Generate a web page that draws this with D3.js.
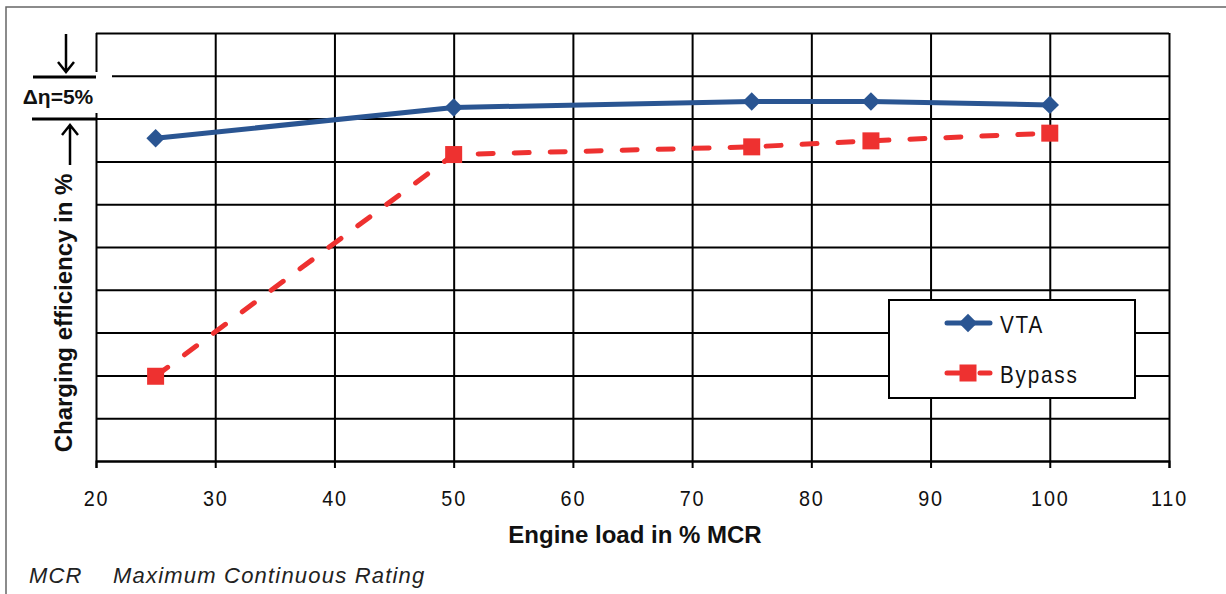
<!DOCTYPE html>
<html>
<head>
<meta charset="utf-8">
<script src="https://cdn.jsdelivr.net/npm/d3@7"></script>
<style>
  body { margin: 0; background: #fff; }
  svg { display: block; }
</style>
</head>
<body>
<div id="chart-area"></div>
<script>
// engine load (% MCR)
var loads = [25, 50, 75, 85, 100];
// charging efficiency (%)
var vtaValues = [72.7, 76.3, 77.0, 77.0, 76.6];
var bypassValues = [44.9, 70.8, 71.7, 72.4, 73.3];
var xTicks = [20, 30, 40, 50, 60, 70, 80, 90, 100, 110];
var yTicks = [35, 40, 45, 50, 55, 60, 65, 70, 75, 80, 85];
var seriesNames = ["VTA", "Bypass"];

var blue = "#2A5592";
var red = "#EE3130";

var margin = { left: 96, right: 57, top: 33, bottom: 133 };
var width = 1226 - margin.left - margin.right;
var height = 594 - margin.top - margin.bottom;

var svg = d3.select("#chart-area")
  .append("svg")
  .attr("width", 1226)
  .attr("height", 594);

// outer frame (top + left only)
svg.append("path")
  .attr("d", "M6,594V7H1226")
  .attr("fill", "none")
  .attr("stroke", "#666")
  .attr("stroke-width", 1.5);

var g = svg.append("g")
  .attr("transform", "translate(" + margin.left + "," + margin.top + ")");

var x = d3.scaleLinear()
  .domain([20, 110])
  .range([0, width]);

var y = d3.scaleLinear()
  .domain([35, 85])
  .range([height, 0]);

// horizontal grid
g.append("g")
  .attr("class", "y-grid")
  .call(d3.axisLeft(y).tickValues(yTicks).tickSize(-width).tickFormat(""))
  .call(a => a.select(".domain").remove())
  .selectAll("line")
    .attr("stroke", "#000")
    .attr("stroke-width", 2);

// vertical grid
g.append("g")
  .attr("class", "x-grid")
  .attr("transform", "translate(0," + height + ")")
  .call(d3.axisBottom(x).tickValues(xTicks).tickSize(-height).tickFormat(""))
  .call(a => a.select(".domain").remove())
  .selectAll("line")
    .attr("stroke", "#000")
    .attr("stroke-width", 2);

// X axis ticks + labels
var xAxis = g.append("g")
  .attr("class", "x-axis")
  .attr("transform", "translate(0," + height + ")")
  .call(d3.axisBottom(x).tickValues(xTicks).tickSize(7).tickFormat(d => d));
xAxis.select(".domain").attr("stroke", "#000").attr("stroke-width", 2);
xAxis.selectAll("line").attr("stroke", "#000").attr("stroke-width", 2);
xAxis.selectAll("text")
  .attr("y", 45)
  .attr("dy", 0)
  .attr("font-family", "Liberation Sans, Arial, sans-serif")
  .attr("font-size", "22px")
  .attr("letter-spacing", "2px")
  .attr("fill", "#111")
  .attr("transform", "scale(0.9,1)");

// X label
svg.append("text")
  .attr("x", 635)
  .attr("y", 543)
  .attr("text-anchor", "middle")
  .attr("font-family", "Liberation Sans, Arial, sans-serif")
  .attr("font-weight", "bold")
  .attr("font-size", "24px")
  .attr("fill", "#111")
  .text("Engine load in % MCR");

// Y label
svg.append("text")
  .attr("transform", "translate(72,313) rotate(-90)")
  .attr("text-anchor", "middle")
  .attr("font-family", "Liberation Sans, Arial, sans-serif")
  .attr("font-weight", "bold")
  .attr("font-size", "24px")
  .attr("fill", "#111")
  .text("Charging efficiency in %");

// delta-eta bracket
svg.append("rect")
  .attr("x", 90).attr("y", 72)
  .attr("width", 22).attr("height", 41)
  .attr("fill", "#fff");

svg.append("line")
  .attr("x1", 33).attr("x2", 96)
  .attr("y1", 77).attr("y2", 77)
  .attr("stroke", "#000").attr("stroke-width", 3);
svg.append("line")
  .attr("x1", 32).attr("x2", 97)
  .attr("y1", 119).attr("y2", 119)
  .attr("stroke", "#000").attr("stroke-width", 3);

var arrows = svg.append("g")
  .attr("fill", "none")
  .attr("stroke", "#000")
  .attr("stroke-width", 2.5);
arrows.append("path").attr("d", "M66,34V72M58,62L66,72L74,62");
arrows.append("path").attr("d", "M70,165V125M62,135L70,125L78,135");

svg.append("text")
  .attr("x", 58)
  .attr("y", 104)
  .attr("text-anchor", "middle")
  .attr("font-family", "Liberation Sans, Arial, sans-serif")
  .attr("font-weight", "bold")
  .attr("font-size", "21px")
  .attr("fill", "#111")
  .text("\u0394\u03b7=5%");

// Lines
var vtaData = loads.map((d, i) => ({ x: d, y: vtaValues[i] }));
var bypassData = loads.map((d, i) => ({ x: d, y: bypassValues[i] }));

var line = d3.line()
  .x(d => x(d.x))
  .y(d => y(d.y));

g.append("path")
  .datum(bypassData)
  .attr("d", line)
  .attr("fill", "none")
  .attr("stroke", red)
  .attr("stroke-width", 5)
  .attr("stroke-linecap", "round")
  .attr("stroke-dasharray", "15,21");

g.append("path")
  .datum(vtaData)
  .attr("d", line)
  .attr("fill", "none")
  .attr("stroke", blue)
  .attr("stroke-width", 5)
  .attr("stroke-linejoin", "round");

// markers
var diamond = d3.symbol().type(d3.symbolSquare).size(170);
g.selectAll(".vta-pt")
  .data(vtaData)
  .enter()
  .append("path")
  .attr("class", "vta-pt")
  .attr("d", diamond)
  .attr("transform", d => "translate(" + x(d.x) + "," + y(d.y) + ") rotate(45)")
  .attr("fill", blue);

g.selectAll(".bypass-pt")
  .data(bypassData)
  .enter()
  .append("rect")
  .attr("class", "bypass-pt")
  .attr("x", d => x(d.x) - 8.5)
  .attr("y", d => y(d.y) - 8.5)
  .attr("width", 17)
  .attr("height", 17)
  .attr("fill", red);

// Legend
var legend = svg.append("g").attr("class", "legend");
legend.append("rect")
  .attr("x", 889).attr("y", 300)
  .attr("width", 246).attr("height", 98)
  .attr("fill", "#fff")
  .attr("stroke", "#000")
  .attr("stroke-width", 2);

var items = legend.selectAll(".item")
  .data(seriesNames)
  .enter()
  .append("g")
  .attr("class", "item")
  .attr("transform", (d, i) => "translate(968," + (323 + i * 50) + ")");

items.append("line")
  .attr("x1", -21).attr("x2", 22)
  .attr("stroke", (d, i) => i ? red : blue)
  .attr("stroke-width", 5)
  .attr("stroke-linecap", "round")
  .attr("stroke-dasharray", (d, i) => i ? "12,21" : null);

items.filter((d, i) => i === 0)
  .append("path")
  .attr("d", diamond)
  .attr("transform", "rotate(45)")
  .attr("fill", blue);

items.filter((d, i) => i === 1)
  .append("rect")
  .attr("x", -8.5).attr("y", -8.5)
  .attr("width", 17).attr("height", 17)
  .attr("fill", red);

items.append("text")
  .attr("transform", "translate(32,10) scale(0.9,1)")
  .attr("font-family", "Liberation Sans, Arial, sans-serif")
  .attr("font-size", "23px")
  .attr("letter-spacing", "2px")
  .attr("fill", "#111")
  .text(d => d);

// footnote
var foot = svg.append("g")
  .attr("font-family", "Liberation Sans, Arial, sans-serif")
  .attr("font-style", "italic")
  .attr("font-size", "22px")
  .attr("letter-spacing", "1.2px")
  .attr("fill", "#222");
foot.append("text").attr("x", 29).attr("y", 583).text("MCR");
foot.append("text").attr("x", 113).attr("y", 583).text("Maximum Continuous Rating");
</script>
</body>
</html>
